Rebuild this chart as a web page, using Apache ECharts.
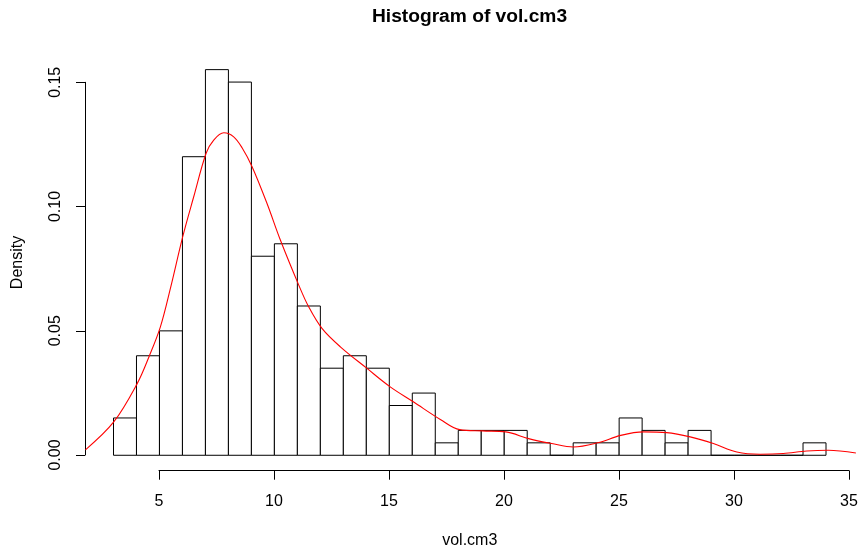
<!DOCTYPE html>
<html><head><meta charset="utf-8">
<script src="https://cdn.jsdelivr.net/npm/echarts@6/dist/echarts.min.js"></script>
<style>html,body{margin:0;padding:0;background:#fff}#c{width:863px;height:549px}</style>
</head><body><div id="c"></div>
<script>
// Histogram bins (left edge, width 1) and densities
const binLeft = [3,4,5,6,7,8,9,10,11,12,13,14,15,16,17,18,19,20,21,22,23,24,25,26,27,28,29,30,31,32,33];
const binWidth = 1;
const density = [0.015,0.04,0.05,0.12,0.155,0.15,0.08,0.085,0.06,0.035,0.04,0.035,0.02,0.025,0.005,0.01,0.01,0.01,0.005,0,0.005,0.005,0.015,0.01,0.005,0.01,0,0,0,0,0.005];
// Kernel density curve
const kdeX = [1.78,3.01,4.03,4.54,5.04,5.5,6.01,6.49,7.03,7.36,7.8,8.23,8.6,9.03,9.68,10.26,11.06,11.49,12.07,12.87,14.03,15.04,16.06,17.22,18.06,19.06,20.07,21.06,22.07,23.01,24.07,25.07,26.06,27.07,28.09,29.1,30.12,31.13,32.14,33.16,34.1,35.3];
const kdeY = [0.0022,0.0134,0.0288,0.0395,0.0516,0.068,0.0878,0.1039,0.1214,0.1267,0.1296,0.128,0.1235,0.116,0.1012,0.0865,0.0684,0.0597,0.051,0.0436,0.0349,0.0275,0.0214,0.0144,0.0103,0.0098,0.0094,0.0067,0.0047,0.0033,0.005,0.008,0.0094,0.0091,0.0074,0.0047,0.0013,0.0004,0.0007,0.0017,0.002,0.0009];
const titleText = 'Histogram of vol.cm3';
const xName = 'vol.cm3';
const yName = 'Density';

const FONT = 'Liberation Sans, Arial, Helvetica, sans-serif';
const histData = binLeft.map((x, i) => [x, x + binWidth, density[i]]);
const kdeData = kdeX.map((x, i) => [x, kdeY[i]]);

const chart = echarts.init(document.getElementById('c'), null, {renderer: 'canvas'});
chart.setOption({
  backgroundColor: '#fff',
  animation: false,
  title: {
    text: titleText, left: 469.5, top: 7, padding: 0, textAlign: 'center',
    textStyle: {fontFamily: FONT, fontWeight: 'bold', fontSize: 19.2, color: '#000'}
  },
  grid: [
    {left: 85, right: 8.5, top: 54.2, bottom: 78.3, containLabel: false, outerBoundsMode: 'none'},
    {left: 159, width: 690, top: 300, bottom: 78.3, containLabel: false, outerBoundsMode: 'none'},
    {left: 85, width: 100, top: 82.3, bottom: 94, containLabel: false, outerBoundsMode: 'none'}
  ],
  xAxis: [
    {gridIndex: 0, type: 'value', min: 1.76, max: 35.24, position: 'bottom',
     axisLine: {show: false}, axisTick: {show: false}, axisLabel: {show: false}, splitLine: {show: false},
     name: xName, nameLocation: 'middle', nameGap: 62,
     nameTextStyle: {fontFamily: FONT, fontSize: 16, color: '#000'}},
    {gridIndex: 1, type: 'value', min: 5, max: 35, interval: 5, position: 'bottom',
     axisLine: {show: true, lineStyle: {color: '#000', width: 1}},
     axisTick: {show: true, length: 9, lineStyle: {color: '#000'}},
     axisLabel: {show: true, margin: 23, fontFamily: FONT, fontSize: 16, color: '#000'},
     splitLine: {show: false}},
    {gridIndex: 2, type: 'value', min: 0, max: 1, show: false}
  ],
  yAxis: [
    {gridIndex: 0, type: 'value', min: -0.0062, max: 0.1612, position: 'left',
     axisLine: {show: false}, axisTick: {show: false}, axisLabel: {show: false}, splitLine: {show: false},
     name: yName, nameLocation: 'middle', nameGap: 59.5,
     nameTextStyle: {fontFamily: FONT, fontSize: 16, color: '#000'}},
    {gridIndex: 1, type: 'value', min: 0, max: 1, show: false},
    {gridIndex: 2, type: 'value', min: 0, max: 0.15, interval: 0.05, position: 'left',
     axisLine: {show: true, lineStyle: {color: '#000', width: 1}},
     axisTick: {show: true, length: 9, lineStyle: {color: '#000'}},
     axisLabel: {show: true, rotate: 90, margin: 21, fontFamily: FONT, fontSize: 16, color: '#000',
                 formatter: v => v.toFixed(2)},
     splitLine: {show: false}}
  ],
  series: [
    {
      type: 'custom', xAxisIndex: 0, yAxisIndex: 0, data: histData,
      encode: {x: [0, 1], y: 2},
      renderItem: function (params, api) {
        const p0 = api.coord([api.value(0), 0]);
        const p1 = api.coord([api.value(1), api.value(2)]);
        return {
          type: 'rect',
          shape: {x: p0[0], y: p1[1], width: p1[0] - p0[0], height: p0[1] - p1[1]},
          style: {fill: '#fff', stroke: '#000', lineWidth: 1}
        };
      }
    },
    {
      type: 'line', xAxisIndex: 0, yAxisIndex: 0, data: kdeData,
      smooth: 0.35, showSymbol: false, symbol: 'none', clip: true,
      lineStyle: {color: '#ff0000', width: 1.1}
    }
  ]
});
</script></body></html>
